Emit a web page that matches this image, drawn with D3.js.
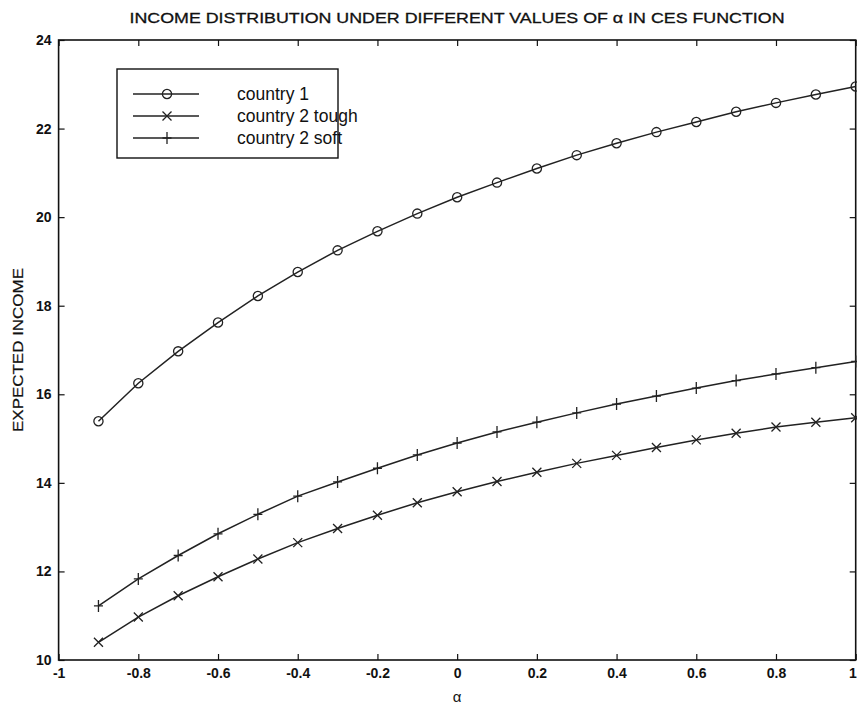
<!DOCTYPE html>
<html>
<head>
<meta charset="utf-8">
<script src="https://cdn.jsdelivr.net/npm/d3@7"></script>
<style>
  body { margin: 0; background: #fff; }
  svg { display: block; font-family: "Liberation Sans", Arial, sans-serif; }
  .axis path, .axis line { stroke: #111; }
  .axis text { fill: #111; font-size: 14px; font-weight: bold; }
</style>
</head>
<body>
<svg width="857" height="707"></svg>
<script>
// data
const alpha = [-0.9, -0.8, -0.7, -0.6, -0.5, -0.4, -0.3, -0.2, -0.1, 0.0,
               0.1, 0.2, 0.3, 0.4, 0.5, 0.6, 0.7, 0.8, 0.9, 1.0];
const country1 = [15.39, 16.25, 16.97, 17.62, 18.22, 18.76, 19.25, 19.68, 20.08, 20.45,
                  20.78, 21.10, 21.40, 21.67, 21.92, 22.15, 22.38, 22.58, 22.77, 22.95];
const country2Tough = [10.40, 10.97, 11.45, 11.88, 12.28, 12.65, 12.97, 13.27, 13.55, 13.80,
                       14.03, 14.24, 14.44, 14.62, 14.80, 14.97, 15.12, 15.26, 15.37, 15.47];
const country2Soft = [11.22, 11.83, 12.36, 12.85, 13.29, 13.70, 14.02, 14.33, 14.63, 14.90,
                      15.15, 15.37, 15.58, 15.78, 15.96, 16.14, 16.31, 16.46, 16.60, 16.74];
const xTicks = [-1, -0.8, -0.6, -0.4, -0.2, 0, 0.2, 0.4, 0.6, 0.8, 1];
const yTicks = [10, 12, 14, 16, 18, 20, 22, 24];
const seriesNames = ["country 1", "country 2 tough", "country 2 soft"];
const markers = ["circle", "cross", "plus"];

const margin = { left: 58.6, right: 1.3, top: 40, bottom: 47 };
const W = 857, H = 707;
const width = W - margin.left - margin.right;
const height = H - margin.top - margin.bottom;

const svg = d3.select("svg");
const g = svg.append("g").attr("transform", `translate(${margin.left},${margin.top})`);

const x = d3.scaleLinear().domain([-1, 1]).range([0, width]);
const y = d3.scaleLinear().domain([10, 24]).range([height, 0]);

// plain hyphen minus, like the original
const fmt = d => String(+d.toFixed(1));

// axes, MATLAB style ticks pointing inwards
const gx = g.append("g").attr("class", "axis")
    .attr("transform", `translate(0,${height})`)
    .call(d3.axisBottom(x).tickValues(xTicks).tickSizeInner(-6).tickSizeOuter(0).tickPadding(8).tickFormat(fmt))
    .call(a => a.select(".domain").remove());
// last label sits at the window edge
gx.selectAll(".tick text").filter(d => d === 1)
    .attr("text-anchor", "end").attr("dx", 0.5);

g.append("g").attr("class", "axis")
    .call(d3.axisTop(x).tickValues(xTicks).tickSizeInner(-6).tickSizeOuter(0).tickFormat(""))
    .call(a => a.select(".domain").remove());
g.append("g").attr("class", "axis")
    .call(d3.axisLeft(y).tickValues(yTicks).tickSizeInner(-6).tickSizeOuter(0).tickPadding(7))
    .call(a => a.select(".domain").remove());
g.append("g").attr("class", "axis")
    .attr("transform", `translate(${width},0)`)
    .call(d3.axisRight(y).tickValues(yTicks).tickSizeInner(-6).tickSizeOuter(0).tickFormat(""))
    .call(a => a.select(".domain").remove());

g.selectAll(".axis .tick line").attr("stroke-width", 1.2);

// frame
g.append("rect")
    .attr("width", width).attr("height", height)
    .attr("fill", "none").attr("stroke", "#111").attr("stroke-width", 1.6);

// marker drawing
function drawMarker(sel, type) {
    if (type === "circle") {
        sel.append("circle").attr("r", 4.6)
            .attr("fill", "none").attr("stroke", "#222").attr("stroke-width", 1.3);
    } else if (type === "cross") {
        sel.append("path").attr("d", "M-4.5,-4.5L4.5,4.5M-4.5,4.5L4.5,-4.5")
            .attr("stroke", "#222").attr("stroke-width", 1.3);
    } else {
        sel.append("path").attr("d", "M0,-6L0,6M-4.5,0L4.5,0")
            .attr("stroke", "#222").attr("stroke-width", 1.3);
    }
}

const seriesData = [country1, country2Tough, country2Soft];
const line = d3.line().x(d => x(d[0])).y(d => y(d[1]));

seriesData.forEach((vals, i) => {
    const pts = alpha.map((a, j) => [a, vals[j]]);
    g.append("path").datum(pts)
        .attr("d", line)
        .attr("fill", "none").attr("stroke", "#222").attr("stroke-width", 1.5);
    g.selectAll(null).data(pts).enter()
        .append("g")
        .attr("transform", d => `translate(${x(d[0])},${y(d[1])})`)
        .each(function() { drawMarker(d3.select(this), markers[i]); });
});

// legend
const legend = svg.append("g").attr("transform", "translate(117,69)");
legend.append("rect")
    .attr("width", 221).attr("height", 89)
    .attr("fill", "#fff").attr("stroke", "#111").attr("stroke-width", 1.4);
seriesNames.forEach((name, i) => {
    const row = legend.append("g").attr("transform", `translate(0,${25 + i * 22})`);
    row.append("line").attr("x1", 16).attr("x2", 82)
        .attr("stroke", "#222").attr("stroke-width", 1.4);
    drawMarker(row.append("g").attr("transform", "translate(50,0)"), markers[i]);
    row.append("text").attr("x", 120).attr("y", 6)
        .style("font-size", "17.5px").attr("fill", "#111")
        .text(name);
});

// title
svg.append("text")
    .attr("x", 457).attr("y", 23)
    .attr("text-anchor", "middle")
    .attr("textLength", 655).attr("lengthAdjust", "spacingAndGlyphs")
    .style("font-size", "15px").attr("fill", "#111")
    .attr("stroke", "#111").attr("stroke-width", 0.3)
    .text("INCOME DISTRIBUTION UNDER DIFFERENT VALUES OF α IN CES FUNCTION");

// axis labels
svg.append("text")
    .attr("x", 457).attr("y", 702)
    .attr("text-anchor", "middle")
    .style("font-size", "15px").attr("fill", "#111")
    .text("α");

svg.append("text")
    .attr("transform", "translate(23,350) rotate(-90)")
    .attr("text-anchor", "middle")
    .attr("textLength", 164).attr("lengthAdjust", "spacingAndGlyphs")
    .style("font-size", "14px").attr("fill", "#111")
    .attr("stroke", "#111").attr("stroke-width", 0.2)
    .text("EXPECTED INCOME");
</script>
</body>
</html>
